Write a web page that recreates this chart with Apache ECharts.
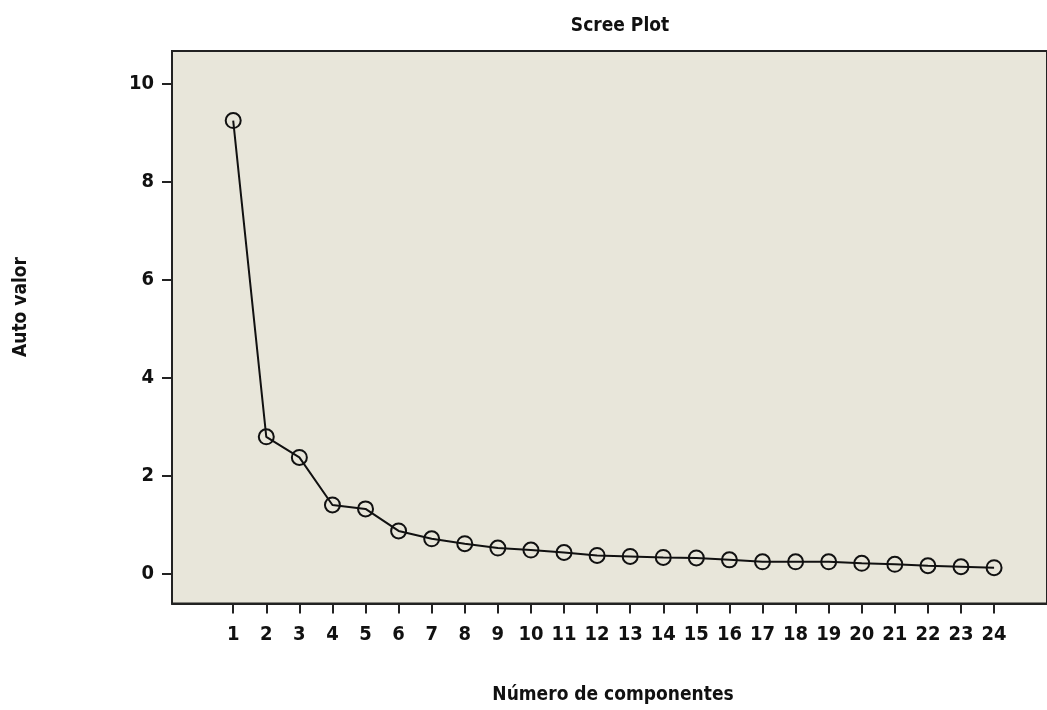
<!DOCTYPE html>
<html>
<head>
<meta charset="utf-8">
<script src="https://cdn.jsdelivr.net/npm/echarts@6/dist/echarts.min.js"></script>
<style>html,body{margin:0;padding:0;background:#fff}#c{width:1047px;height:710px}</style>
</head>
<body>
<div id="c"></div>
<script>
var components = [1,2,3,4,5,6,7,8,9,10,11,12,13,14,15,16,17,18,19,20,21,22,23,24];
var eigenvalues = [9.24,2.79,2.37,1.40,1.32,0.87,0.71,0.61,0.52,0.48,0.43,0.37,0.35,0.33,0.32,0.28,0.24,0.24,0.24,0.21,0.19,0.16,0.14,0.12];
var yTicks = [0,2,4,6,8,10];
var titleText = 'Scree Plot';
var xName = 'Número de componentes';
var yName = 'Auto valor';

var FONT = '"Liberation Sans Narrow", "DejaVu Sans Condensed", sans-serif';
var FS = 19;
var chart = echarts.init(document.getElementById('c'));
var points = components.map(function(c, i){ return [c, eigenvalues[i]]; });
chart.setOption({
  animation: false,
  title: {
    text: titleText, left: 615, top: 12, textAlign: 'center',
    textStyle: {fontFamily: FONT, fontWeight: 'bold', fontSize: FS, color: '#111'}
  },
  grid: {
    left: 172, right: 0, top: 51, bottom: 104,
    show: true, backgroundColor: '#e8e6da', borderColor: '#222', borderWidth: 2
  },
  xAxis: {
    type: 'value', min: -0.85, max: 25.6,
    name: xName, nameLocation: 'middle', nameGap: 92,
    nameTextStyle: {fontFamily: FONT, fontWeight: 'bold', fontSize: FS, color: '#111', verticalAlign: 'middle', padding: [0,0,0,7]},
    axisLine: {show: true, onZero: false, lineStyle: {color: '#222', width: 2}},
    axisTick: {show: true, inside: false, length: 10, customValues: components, lineStyle: {color: '#222', width: 2}},
    axisLabel: {customValues: components, margin: 21, fontFamily: FONT, fontWeight: 'bold', fontSize: 20, color: '#111'},
    splitLine: {show: false}
  },
  yAxis: {
    type: 'value', min: -0.61, max: 10.66,
    axisLine: {show: true, onZero: false, lineStyle: {color: '#222', width: 2}},
    axisTick: {show: true, inside: false, length: 10, customValues: yTicks, lineStyle: {color: '#222', width: 2}},
    axisLabel: {customValues: yTicks, margin: 18, fontFamily: FONT, fontWeight: 'bold', fontSize: 20, color: '#111', padding: [0,0,4,0]},
    splitLine: {show: false}
  },
  graphic: [{
    type: 'text', x: 21, y: 307, rotation: Math.PI/2,
    style: {text: yName, fontFamily: FONT, fontWeight: 'bold', fontSize: FS, fill: '#111', align: 'center', verticalAlign: 'middle'}
  }],
  series: [{
    type: 'line', data: points,
    symbol: 'circle', symbolSize: 15, showAllSymbol: true,
    lineStyle: {color: '#111', width: 2},
    itemStyle: {color: 'rgba(0,0,0,0)', borderColor: '#111', borderWidth: 2}
  }]
});
</script>
</body>
</html>
